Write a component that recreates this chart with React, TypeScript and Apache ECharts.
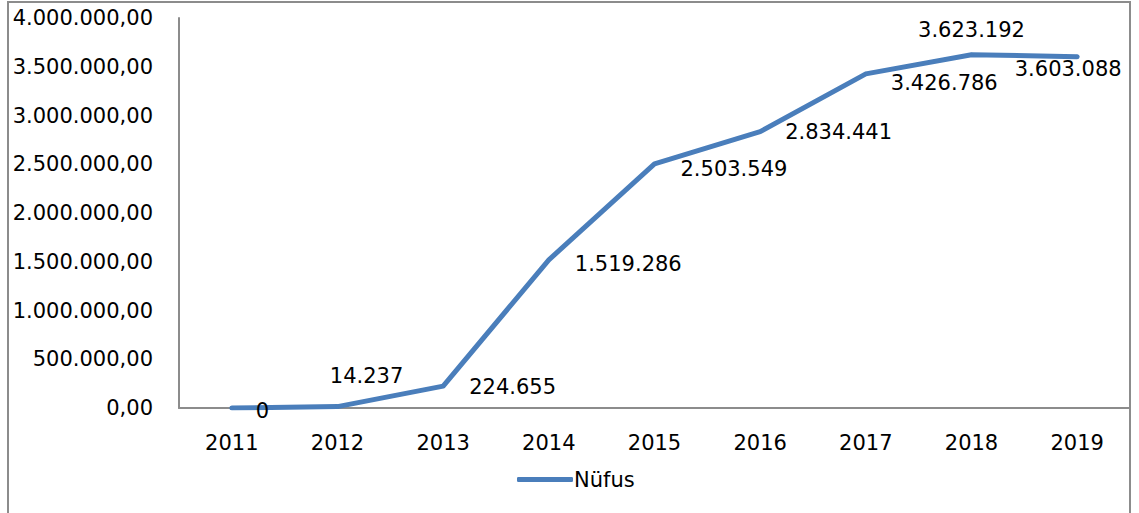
import React, { useEffect, useRef } from "react";
import * as echarts from "echarts";

const years = ["2011", "2012", "2013", "2014", "2015", "2016", "2017", "2018", "2019"];
const population = [0, 14237, 224655, 1519286, 2503549, 2834441, 3426786, 3623192, 3603088];
const seriesName = "Nüfus";
const yTicks = [0, 500000, 1000000, 1500000, 2000000, 2500000, 3000000, 3500000, 4000000];

const FONT = "DejaVu Sans";

function fmtThousands(v: number): string {
  const s = Math.round(v).toString();
  return s.replace(/\B(?=(\d{3})+(?!\d))/g, ".");
}

// per-point label placement (styling only)
const labelPlacement: any[] = [
  { position: "right", distance: 22, offset: [0, 3] },
  { position: "top", distance: 18, offset: [29, 0] },
  { position: "right", distance: 24, offset: [0, 1] },
  { position: "right", distance: 24, offset: [0, 4] },
  { position: "right", distance: 24, offset: [0, 5] },
  { position: "right", distance: 23, offset: [0, 0] },
  { position: "right", distance: 23, offset: [0, 9] },
  { position: "top", distance: 12, offset: [0, 0] },
  { position: "inside", offset: [-9, 12] },
];

export default function App() {
  const ref = useRef<HTMLDivElement>(null);
  useEffect(() => {
    if (!ref.current) return;
    const chart = echarts.init(ref.current, undefined, { renderer: "svg" });
    chart.setOption({
      animation: false,
      backgroundColor: "#ffffff",
      textStyle: { fontFamily: FONT },
      grid: { left: 179, right: 9, top: 18, bottom: 105, containLabel: false },
      graphic: [
        {
          type: "rect",
          shape: { x: 8, y: 2, width: 1122, height: 530 },
          style: { fill: "none", stroke: "#8c8c8c", lineWidth: 2 },
          silent: true,
        },
      ],
      legend: {
        data: [{ name: seriesName, icon: "roundRect", itemStyle: { color: "#4a7ebb", opacity: 1 } }],
        left: 512,
        top: 464,
        itemWidth: 56,
        itemHeight: 5,
        itemGap: 4,
        textStyle: { fontFamily: FONT, fontSize: 21, color: "#000", padding: [0, 0, 0, -4] },
      },
      xAxis: {
        type: "category",
        data: years,
        boundaryGap: true,
        axisLine: { lineStyle: { color: "#8c8c8c", width: 2 } },
        axisTick: { show: false },
        axisLabel: { fontFamily: FONT, fontSize: 21, color: "#000", margin: 24 },
      },
      yAxis: {
        type: "value",
        min: yTicks[0],
        max: yTicks[yTicks.length - 1],
        interval: yTicks[1] - yTicks[0],
        splitLine: { show: false },
        axisLine: { show: true, lineStyle: { color: "#8c8c8c", width: 2 } },
        axisTick: { show: false },
        axisLabel: {
          fontFamily: FONT,
          fontSize: 21,
          color: "#000",
          margin: 26,
          formatter: (v: number) => fmtThousands(v) + ",00",
        },
      },
      series: [
        {
          name: seriesName,
          type: "line",
          data: population.map((v, i) => ({
            value: v,
            label: {
              show: true,
              ...labelPlacement[i],
            },
          })),
          showSymbol: true,
          symbol: "circle",
          symbolSize: 4,
          lineStyle: { color: "#4a7ebb", width: 5, cap: "round", join: "round" },
          itemStyle: { color: "#4a7ebb" },
          label: {
            show: true,
            fontFamily: FONT,
            fontSize: 21,
            color: "#000",
            formatter: (p: any) => fmtThousands(p.value),
          },
        },
      ],
    });
    return () => chart.dispose();
  }, []);
  return (
    <div
      ref={ref}
      style={{ position: "fixed", left: 0, top: 0, width: 1139, height: 513 }}
    />
  );
}
